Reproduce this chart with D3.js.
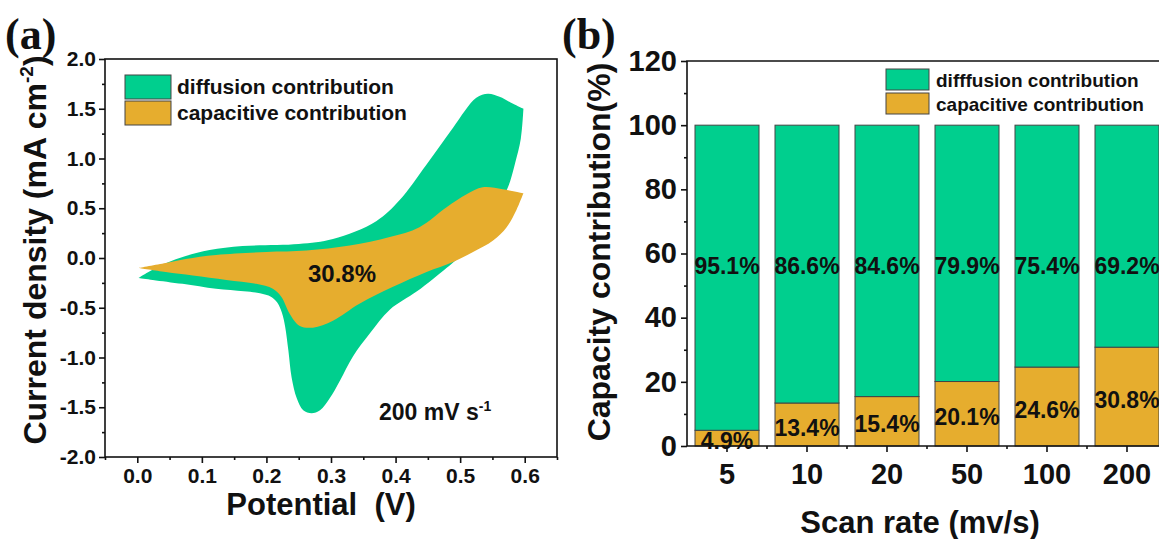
<!DOCTYPE html>
<html>
<head>
<meta charset="utf-8">
<script src="https://cdn.jsdelivr.net/npm/d3@7"></script>
<style>
body { margin: 0; background: #fff; }
text { font-family: "Liberation Sans", Arial, sans-serif; font-weight: bold; fill: #111; }
</style>
</head>
<body>
<script>

// panel (a): CV at 200 mV/s, [potential V, current mA cm-2]
var potentialTicks = [0.0, 0.1, 0.2, 0.3, 0.4, 0.5, 0.6];
var currentTicks = [-2.0, -1.5, -1.0, -0.5, 0.0, 0.5, 1.0, 1.5, 2.0];

var diffusionForward = [[0.002,-0.20],[0.02,-0.13],[0.045,-0.05],[0.075,0.02],[0.112,0.08],[0.163,0.12],
	[0.25,0.14],[0.303,0.19],[0.37,0.37],[0.406,0.58],[0.448,0.94],[0.489,1.31],[0.525,1.61],[0.543,1.65],
	[0.561,1.62],[0.582,1.55],[0.598,1.50]];
var diffusionReverse = [[0.598,1.50],[0.594,1.20],[0.585,0.95],[0.574,0.71],[0.55,0.40],[0.52,0.15],[0.499,0.01],
	[0.458,-0.21],[0.432,-0.34],[0.391,-0.52],[0.36,-0.76],[0.334,-0.99],[0.314,-1.23],[0.298,-1.41],
	[0.283,-1.53],[0.270,-1.56],[0.257,-1.53],[0.247,-1.41],[0.239,-1.20],[0.234,-0.93],[0.229,-0.69],
	[0.224,-0.55],[0.217,-0.45],[0.207,-0.39],[0.19,-0.355],[0.165,-0.335],[0.122,-0.31],[0.07,-0.26],
	[0.024,-0.22],[0.002,-0.20]];

var capacitiveForward = [[0.002,-0.10],[0.044,-0.05],[0.075,-0.01],[0.122,0.03],[0.20,0.06],[0.262,0.075],
	[0.329,0.125],[0.391,0.21],[0.437,0.31],[0.479,0.51],[0.51,0.64],[0.535,0.71],[0.566,0.69],[0.598,0.65]];
var capacitiveReverse = [[0.598,0.65],[0.587,0.48],[0.572,0.31],[0.551,0.175],[0.52,0.06],[0.489,-0.04],
	[0.448,-0.14],[0.396,-0.29],[0.344,-0.46],[0.303,-0.63],[0.272,-0.70],[0.251,-0.68],[0.236,-0.56],
	[0.223,-0.39],[0.21,-0.31],[0.184,-0.26],[0.138,-0.22],[0.086,-0.175],[0.044,-0.14],[0.002,-0.10]];

// panel (b): contribution at each scan rate
var scanRates = ["5", "10", "20", "50", "100", "200"];
var diffusionPct = [95.1, 86.6, 84.6, 79.9, 75.4, 69.2];
var capacitivePct = [4.9, 13.4, 15.4, 20.1, 24.6, 30.8];
var percentTicks = [0, 20, 40, 60, 80, 100, 120];

var green = "#00CF8E";
var orange = "#E6AD2E";
var edge = "#444";

var svg = d3.select("body")
			.append("svg")
			.attr("width", 1159)
			.attr("height", 539);

function styleAxis(g){
	g.select(".domain").remove();
	g.selectAll("line").attr("stroke", "#111").attr("stroke-width", 1.6);
	g.selectAll("text").attr("fill", "#111");
}

// ---------- panel (a) ----------
var xA = d3.scaleLinear().domain([-0.05, 0.65]).range([105, 557]);
var yA = d3.scaleLinear().domain([-2, 2]).range([457, 59]);

var minorV = d3.range(-0.05, 0.66, 0.1).map(function(d){ return +d.toFixed(2); });
var minorJ = d3.range(-1.75, 2, 0.5);

svg.append("g")
	.attr("transform", "translate(0,457)")
	.call(d3.axisBottom(xA).tickValues(minorV).tickSize(3).tickFormat(""))
	.call(styleAxis);
svg.append("g")
	.attr("transform", "translate(0,457)")
	.call(d3.axisBottom(xA).tickValues(potentialTicks).tickSize(6).tickPadding(5)
		.tickFormat(function(d){ return d.toFixed(1); }))
	.call(styleAxis)
	.selectAll("text").attr("font-size", "21px");

svg.append("g")
	.attr("transform", "translate(105,0)")
	.call(d3.axisLeft(yA).tickValues(minorJ).tickSize(3).tickFormat(""))
	.call(styleAxis);
svg.append("g")
	.attr("transform", "translate(105,0)")
	.call(d3.axisLeft(yA).tickValues(currentTicks).tickSize(6).tickPadding(3)
		.tickFormat(function(d){ return d.toFixed(1); }))
	.call(styleAxis)
	.selectAll("text").attr("font-size", "21px");

var line = d3.line()
	.x(function(d){ return xA(d[0]); })
	.y(function(d){ return yA(d[1]); })
	.curve(d3.curveCatmullRom.alpha(0.5));

function loop(fwd, rev){
	return line(fwd) + "L" + line(rev).slice(1) + "Z";
}

svg.append("path")
	.attr("d", loop(diffusionForward, diffusionReverse))
	.attr("fill", green);
svg.append("path")
	.attr("d", loop(capacitiveForward, capacitiveReverse))
	.attr("fill", orange);

svg.append("rect")
	.attr("x", 105).attr("y", 59)
	.attr("width", 452).attr("height", 398)
	.attr("fill", "none")
	.attr("stroke", "#111")
	.attr("stroke-width", 1.6);

var legendA = [["diffusion contribution", green], ["capacitive contribution", orange]];
legendA.forEach(function(d, i){
	svg.append("rect")
		.attr("x", 125).attr("y", 75 + i * 26)
		.attr("width", 46).attr("height", 24)
		.attr("fill", d[1]).attr("stroke", edge).attr("stroke-width", 1);
	svg.append("text")
		.attr("x", 177).attr("y", 87 + i * 26)
		.attr("dy", "0.35em")
		.attr("font-size", "21px")
		.text(d[0]);
});

svg.append("text")
	.attr("x", 342).attr("y", 274)
	.attr("dy", "0.35em")
	.attr("text-anchor", "middle")
	.attr("font-size", "24px")
	.text(capacitivePct[5] + "%");

var rate = svg.append("text")
	.attr("x", 379).attr("y", 420)
	.attr("font-size", "23px");
rate.append("tspan").text("200 mV s");
rate.append("tspan").attr("font-size", "14px").attr("dy", -9).text("-1");

svg.append("text")
	.attr("x", 321).attr("y", 515)
	.attr("text-anchor", "middle")
	.attr("font-size", "31px")
	.style("white-space", "pre")
	.text("Potential  (V)");

var titleA = svg.append("text")
	.attr("transform", "translate(46,250) rotate(-90)")
	.attr("text-anchor", "middle")
	.attr("font-size", "32px");
titleA.append("tspan").text("Current density (mA cm");
titleA.append("tspan").attr("font-size", "19px").attr("dy", -13).text("-2");
titleA.append("tspan").attr("dy", 13).text(")");

svg.append("text")
	.attr("x", 5).attr("y", 49)
	.attr("font-size", "44px")
	.style("font-family", "'Liberation Serif', 'Times New Roman', serif")
	.attr("fill", "#1a1a1a")
	.text("(a)");

// ---------- panel (b) ----------
var xB = d3.scaleBand().domain(scanRates).range([687, 1167]).paddingInner(0.2).paddingOuter(0.1);
var yB = d3.scaleLinear().domain([0, 120]).range([446, 61]);
var half = xB.bandwidth() / 2;

var bars = svg.append("g");
bars.selectAll(".cap")
	.data(scanRates)
	.enter()
	.append("rect")
	.attr("x", function(d){ return xB(d); })
	.attr("y", function(d, i){ return yB(capacitivePct[i]); })
	.attr("width", xB.bandwidth())
	.attr("height", function(d, i){ return yB(0) - yB(capacitivePct[i]); })
	.attr("fill", orange).attr("stroke", edge).attr("stroke-width", 1);
bars.selectAll(".dif")
	.data(scanRates)
	.enter()
	.append("rect")
	.attr("x", function(d){ return xB(d); })
	.attr("y", function(d, i){ return yB(capacitivePct[i] + diffusionPct[i]); })
	.attr("width", xB.bandwidth())
	.attr("height", function(d, i){ return yB(capacitivePct[i]) - yB(capacitivePct[i] + diffusionPct[i]); })
	.attr("fill", green).attr("stroke", edge).attr("stroke-width", 1);

bars.selectAll(".difLabel")
	.data(scanRates)
	.enter()
	.append("text")
	.attr("x", function(d){ return xB(d) + half; })
	.attr("y", yB(56))
	.attr("dy", "0.35em")
	.attr("text-anchor", "middle")
	.attr("font-size", "23px")
	.text(function(d, i){ return diffusionPct[i] + "%"; });
bars.selectAll(".capLabel")
	.data(scanRates)
	.enter()
	.append("text")
	.attr("x", function(d){ return xB(d) + half; })
	.attr("y", function(d, i){ return yB(capacitivePct[i] / 2) + 3; })
	.attr("dy", "0.35em")
	.attr("text-anchor", "middle")
	.attr("font-size", "23px")
	.text(function(d, i){ return capacitivePct[i] + "%"; });

// frame
svg.append("path")
	.attr("d", "M687,61H1167V446H687Z")
	.attr("fill", "none")
	.attr("stroke", "#111")
	.attr("stroke-width", 1.6);

svg.append("g")
	.attr("transform", "translate(0,446)")
	.call(d3.axisBottom(xB).tickSize(6).tickPadding(11))
	.call(styleAxis)
	.selectAll("text").attr("font-size", "29px");
svg.append("g")
	.selectAll("line")
	.data(scanRates.slice(1))
	.enter()
	.append("line")
	.attr("x1", function(d){ return xB(d) - xB.step() * 0.1; })
	.attr("x2", function(d){ return xB(d) - xB.step() * 0.1; })
	.attr("y1", 446).attr("y2", 449)
	.attr("stroke", "#111").attr("stroke-width", 1.6);

svg.append("g")
	.attr("transform", "translate(687,0)")
	.call(d3.axisLeft(yB).tickValues(d3.range(10, 120, 20)).tickSize(3).tickFormat(""))
	.call(styleAxis);
svg.append("g")
	.attr("transform", "translate(687,0)")
	.call(d3.axisLeft(yB).tickValues(percentTicks).tickSize(6).tickPadding(4))
	.call(styleAxis)
	.selectAll("text").attr("font-size", "29px");

var legendB = [["difffusion contribution", green], ["capacitive contribution", orange]];
legendB.forEach(function(d, i){
	svg.append("rect")
		.attr("x", 886).attr("y", 69 + i * 24)
		.attr("width", 43).attr("height", 21)
		.attr("fill", d[1]).attr("stroke", edge).attr("stroke-width", 1);
	svg.append("text")
		.attr("x", 936).attr("y", 80 + i * 24)
		.attr("dy", "0.35em")
		.attr("font-size", "19px")
		.text(d[0]);
});

svg.append("text")
	.attr("x", 920).attr("y", 533)
	.attr("text-anchor", "middle")
	.attr("font-size", "31px")
	.text("Scan rate (mv/s)");

svg.append("text")
	.attr("transform", "translate(610,252) rotate(-90)")
	.attr("text-anchor", "middle")
	.attr("font-size", "32px")
	.text("Capacity contribution(%)");

svg.append("text")
	.attr("x", 562).attr("y", 49)
	.attr("font-size", "44px")
	.style("font-family", "'Liberation Serif', 'Times New Roman', serif")
	.attr("fill", "#1a1a1a")
	.text("(b)");

</script>
</body>
</html>
